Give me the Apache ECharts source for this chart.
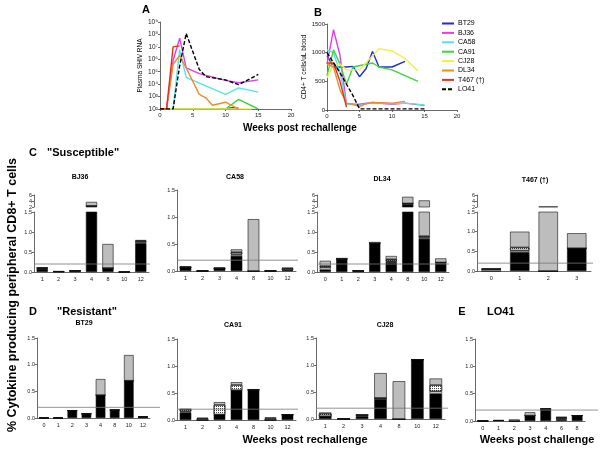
<!DOCTYPE html>
<html>
<head>
<meta charset="utf-8">
<script src="https://cdn.jsdelivr.net/npm/echarts@6/dist/echarts.min.js"></script>
<style>
html, body { margin: 0; padding: 0; background: #fff; }
#chart { width: 600px; height: 457px; }
</style>
</head>
<body>
<div id="chart"></div>
<script>
// ---- panel A: plasma SHIV RNA, [week, copies]
const vlBT29 = [[0, 100], [10, 100], [11, 130], [12, 110]];
const vlBJ36 = [[0, 100], [1, 100], [2, 8e5], [3, 5e7], [4, 2e5], [6, 7e4], [10, 2e4], [12, 1.3e4], [15, 2.2e4]];
const vlCA58 = [[0, 100], [2, 100], [3, 6e6], [4, 3.5e4], [10, 1.5e3], [12, 5e3], [15, 2.3e3]];
const vlCA91 = [[0, 100], [10, 100], [12, 600], [15, 100]];
const vlCJ28 = [[0, 100], [14, 100]];
const vlDL34 = [[0, 100], [1, 100], [2, 4e5], [3, 2e6], [4, 2e5], [6, 1.5e3], [7, 8e2], [8, 2e2], [10, 3.5e2], [12, 100]];
const vlT467 = [[0, 100], [1, 100], [2, 1e7], [3, 1.2e7]];
const vlLO41 = [[0, 100], [2, 100], [3, 3e5], [4, 1.2e8], [6, 1.5e5], [7, 4e4], [10, 2.2e4], [12, 9e3], [15, 6e4]];
const vlTickLabels = ['10²', '10³', '10⁴', '10⁵', '10⁶', '10⁷', '10⁸', '10⁹'];

// ---- panel B: CD4+ T cells/uL, [week, count]
const cdBT29 = [[0, 950], [1, 750], [3, 750], [4, 760], [5, 580], [6, 720], [7, 1020], [8, 750], [10, 750], [12, 850]];
const cdBJ36 = [[0, 800], [1, 1400], [2, 950], [3, 100], [5, 100], [7, 130], [10, 100], [12, 120], [15, 80]];
const cdCA58 = [[0, 1050], [1, 1000], [2, 650], [3, 100], [5, 80], [7, 130], [10, 110], [12, 120], [15, 90]];
const cdCA91 = [[0, 600], [1, 1050], [2, 800], [3, 450], [4, 750], [7, 820], [8, 750], [10, 700], [14, 500]];
const cdCJ28 = [[0, 560], [1, 800], [2, 800], [3, 700], [5, 700], [8, 1070], [10, 1030], [12, 900], [14, 680]];
const cdDL34 = [[0, 800], [1, 750], [2, 350], [3, 120], [4, 100], [5, 60], [6, 110], [7, 130], [10, 120], [12, 150]];
const cdT467 = [[0, 820], [1, 820], [2, 500], [3, 50]];
const cdLO41 = [[0, 1000], [2, 650], [4, 250], [5, 20], [15, 20]];

const animals = ['BT29', 'BJ36', 'CA58', 'CA91', 'CJ28', 'DL34', 'T467 (†)', 'LO41'];

// ---- cytokine bars: black / white / hatched / gray segments
const threshold = 0.2;

const catsBJ36 = ['1', '2', '3', '4', '8', '10', '12'];
const bj36Black = [0.08, 0.01, 0.03, 2.3, 0.1, 0, 0.72];
const bj36White = [0.02, 0, 0, 0.1, 0, 0, 0.03];
const bj36Hatch = [0, 0, 0, 0, 0, 0, 0.03];
const bj36Gray = [0.02, 0.01, 0, 1.3, 0.6, 0.02, 0.02];

const catsCA58 = ['1', '2', '3', '4', '8', '10', '12'];
const ca58Black = [0.07, 0, 0.05, 0.28, 0, 0, 0.01];
const ca58White = [0, 0, 0, 0.03, 0, 0, 0.01];
const ca58Hatch = [0, 0, 0, 0.04, 0, 0, 0.03];
const ca58Gray = [0.01, 0, 0.01, 0.05, 0.96, 0, 0.01];

const catsDL34 = ['0', '1', '2', '3', '4', '8', '10', '12'];
const dl34Black = [0.06, 0.33, 0.03, 0.72, 0.25, 3.0, 0.83, 0.22];
const dl34White = [0.05, 0, 0, 0, 0.02, 0.2, 0.03, 0.02];
const dl34Hatch = [0.04, 0, 0, 0, 0.05, 0, 0.04, 0];
const dl34Gray = [0.13, 0.02, 0, 0.03, 0.08, 2.2, 3.3, 0.1];

const catsT467 = ['0', '1', '2', '3'];
const t467Black = [0, 0.48, 0, 0.58];
const t467White = [0.05, 0.04, 0, 0];
const t467Hatch = [0, 0.08, 0, 0];
const t467Gray = [0, 0.4, 2.2, 0.38];

const catsBT29 = ['0', '1', '2', '3', '4', '8', '10', '12'];
const bt29Black = [0, 0, 0.14, 0.08, 0.43, 0.15, 0.7, 0.02];
const bt29White = [0, 0, 0, 0, 0, 0, 0, 0];
const bt29Hatch = [0, 0, 0, 0, 0, 0, 0, 0];
const bt29Gray = [0, 0.01, 0, 0, 0.3, 0, 0.48, 0];

const catsCA91 = ['1', '2', '3', '4', '8', '10', '12'];
const ca91Black = [0.14, 0, 0.1, 0.55, 0.56, 0, 0.1];
const ca91White = [0.02, 0, 0, 0, 0, 0, 0];
const ca91Hatch = [0.04, 0.03, 0.18, 0.1, 0, 0.03, 0];
const ca91Gray = [0, 0.01, 0.05, 0.05, 0, 0.02, 0];

const catsCJ28 = ['1', '2', '3', '4', '8', '10', '12'];
const cj28Black = [0.05, 0, 0.05, 0.37, 0, 1.1, 0.47];
const cj28White = [0, 0, 0.01, 0.02, 0, 0, 0.04];
const cj28Hatch = [0.05, 0, 0.02, 0, 0, 0, 0.12];
const cj28Gray = [0.02, 0.01, 0, 0.46, 0.7, 0, 0.12];

const catsLO41 = ['0', '1', '2', '3', '4', '6', '8'];
const lo41Black = [0, 0.01, 0, 0.1, 0.22, 0.03, 0.1];
const lo41White = [0, 0, 0, 0, 0, 0.01, 0];
const lo41Hatch = [0, 0, 0, 0, 0, 0.03, 0];
const lo41Gray = [0, 0, 0.03, 0.06, 0, 0, 0];

// ------------------------------------------------------------------
const FONT = 'Liberation Sans';
const colors = ['#1b2fd0', '#e23ee6', '#4fe6ee', '#3fd43f', '#f2ee45', '#f28a2a', '#e5301f', '#000'];

var grid = [], xAxis = [], yAxis = [], series = [], graphic = [];

var axLine = { show: true, onZero: false, lineStyle: { color: '#444', width: 0.8 } };
var axTick = { show: true, length: 2, lineStyle: { color: '#444', width: 0.8 } };
var smallLabel = { fontSize: 5.5, color: '#222', margin: 2, fontFamily: FONT };

function text(str, x, y, size, align, rotate) {
    graphic.push({
        type: 'text', x: x, y: y, rotation: rotate || 0,
        style: {
            text: str, fill: '#000', font: 'bold ' + size + 'px "' + FONT + '"',
            textAlign: align || 'center', textVerticalAlign: 'middle'
        }
    });
}

// panel A
grid.push({ left: 160, top: 22, width: 131, height: 87 });
xAxis.push({
    type: 'value', gridIndex: 0, min: 0, max: 20, interval: 5,
    axisLine: axLine, axisTick: axTick, splitLine: { show: false },
    axisLabel: { fontSize: 6, color: '#222', margin: 3 }
});
yAxis.push({
    type: 'log', logBase: 10, gridIndex: 0, min: 100, max: 1e9,
    axisLine: axLine, axisTick: axTick, splitLine: { show: false },
    axisLabel: {
        fontSize: 6.5, color: '#222', margin: 2,
        formatter: function (v) { return vlTickLabels[Math.round(Math.log10(v)) - 2]; }
    },
    name: 'Plasma SHIV RNA', nameLocation: 'middle', nameGap: 16,
    nameTextStyle: { fontSize: 6.5, color: '#000' }
});
// panel B
grid.push({ left: 327, top: 24, width: 130, height: 86 });
xAxis.push({
    type: 'value', gridIndex: 1, min: 0, max: 20, interval: 5,
    axisLine: axLine, axisTick: axTick, splitLine: { show: false },
    axisLabel: { fontSize: 6, color: '#222', margin: 3 }
});
yAxis.push({
    type: 'value', gridIndex: 1, min: 0, max: 1500, interval: 500,
    axisLine: axLine, axisTick: axTick, splitLine: { show: false },
    axisLabel: { fontSize: 6, color: '#222', margin: 2, formatter: function (v) { return String(v); } },
    name: 'CD4+ T cells/uL blood', nameLocation: 'middle', nameGap: 17,
    nameTextStyle: { fontSize: 6.5, color: '#000' }
});

var vlData = [vlBT29, vlBJ36, vlCA58, vlCA91, vlCJ28, vlDL34, vlT467, vlLO41];
var cdData = [cdBT29, cdBJ36, cdCA58, cdCA91, cdCJ28, cdDL34, cdT467, cdLO41];
animals.forEach(function (name, i) {
    var ls = { width: 1.4, color: colors[i], type: name == 'LO41' ? [4, 2] : 'solid' };
    [vlData[i], cdData[i]].forEach(function (d, g) {
        series.push({
            type: 'line', name: name, xAxisIndex: g, yAxisIndex: g, data: d,
            symbol: 'none', lineStyle: ls, itemStyle: { color: colors[i] },
            z: name == 'LO41' ? 4 : 3
        });
    });
});

// bar panels
var segStyles = [
    { color: '#000' },
    { color: '#fff' },
    { color: '#fff', decal: { symbol: 'rect', symbolSize: 1, color: 'rgba(0,0,0,0.75)', dashArrayX: [1, 1], dashArrayY: [1, 1], rotation: 0 } },
    { color: '#bdbdbd' }
];

function addStack(gi, segs, stack) {
    segs.forEach(function (d, k) {
        series.push({
            type: 'bar', xAxisIndex: gi, yAxisIndex: gi, stack: stack, data: d,
            barCategoryGap: '32%', silent: true,
            itemStyle: Object.assign({ borderColor: '#111', borderWidth: 0.6 }, segStyles[k])
        });
    });
}

function barPanel(p, cats, segs) {
    var gi = grid.length;
    grid.push({ left: p.left, top: p.top, width: p.width, height: p.height });
    xAxis.push({
        type: 'category', gridIndex: gi, data: cats,
        axisLine: axLine, axisTick: { show: false },
        axisLabel: Object.assign({ interval: 0 }, smallLabel, { margin: 4 })
    });
    yAxis.push({
        type: 'value', gridIndex: gi, min: 0, max: 1.5, interval: 0.5,
        axisLine: axLine, axisTick: axTick, splitLine: { show: false },
        axisLabel: Object.assign({ formatter: function (v) { return v.toFixed(1); } }, smallLabel)
    });
    addStack(gi, segs, 's' + gi);

    // threshold line, drawn over the full axis length
    var ti = grid.length;
    grid.push({ left: p.left, top: p.top, width: p.lineRight - p.left, height: p.height });
    xAxis.push({ type: 'value', gridIndex: ti, min: 0, max: 1, show: false });
    yAxis.push({ type: 'value', gridIndex: ti, min: 0, max: 1.5, show: false });
    series.push({
        type: 'line', xAxisIndex: ti, yAxisIndex: ti, data: [[0, threshold], [1, threshold]],
        symbol: 'none', silent: true, z: 5, lineStyle: { color: '#777', width: 0.8 }
    });

    if (p.upperTop != undefined) {
        var ui = grid.length;
        grid.push({ left: p.left, top: p.upperTop, width: p.width, height: p.upperHeight });
        xAxis.push({ type: 'category', gridIndex: ui, data: cats, show: false });
        yAxis.push({
            type: 'value', gridIndex: ui, min: 2, max: 6, interval: 2,
            axisLine: axLine, axisTick: axTick, splitLine: { show: false },
            axisLabel: smallLabel
        });
        addStack(ui, segs, 'u' + gi);
    }
    text(p.title, p.titleX, p.titleY, 7);
}

barPanel({ title: 'BJ36', left: 34, width: 115, top: 212, height: 60, upperTop: 195, upperHeight: 12, lineRight: 150, titleX: 80, titleY: 177 },
    catsBJ36, [bj36Black, bj36White, bj36Hatch, bj36Gray]);
barPanel({ title: 'CA58', left: 177, width: 119, top: 190, height: 81, lineRight: 298, titleX: 235, titleY: 177 },
    catsCA58, [ca58Black, ca58White, ca58Hatch, ca58Gray]);
barPanel({ title: 'DL34', left: 317, width: 132, top: 212, height: 60, upperTop: 195, upperHeight: 12, lineRight: 449, titleX: 382, titleY: 179 },
    catsDL34, [dl34Black, dl34White, dl34Hatch, dl34Gray]);
barPanel({ title: 'T467 (†)', left: 477, width: 114, top: 212, height: 59, upperTop: 195, upperHeight: 12, lineRight: 593, titleX: 535, titleY: 180 },
    catsT467, [t467Black, t467White, t467Hatch, t467Gray]);

barPanel({ title: 'BT29', left: 37, width: 113, top: 338, height: 80, lineRight: 160, titleX: 84, titleY: 323 },
    catsBT29, [bt29Black, bt29White, bt29Hatch, bt29Gray]);
barPanel({ title: 'CA91', left: 177, width: 119, top: 339, height: 81, lineRight: 298, titleX: 233, titleY: 325 },
    catsCA91, [ca91Black, ca91White, ca91Hatch, ca91Gray]);
barPanel({ title: 'CJ28', left: 316, width: 129, top: 338, height: 81, lineRight: 448, titleX: 385, titleY: 325 },
    catsCJ28, [cj28Black, cj28White, cj28Hatch, cj28Gray]);
barPanel({ title: '', left: 475, width: 110, top: 339, height: 82, lineRight: 598, titleX: 530, titleY: 325 },
    catsLO41, [lo41Black, lo41White, lo41Hatch, lo41Gray]);

// labels
text('A', 146, 10, 11, 'center');
text('B', 318, 13, 11, 'center');
text('Weeks post rechallenge', 243, 128, 10, 'left');
text('C', 33, 153, 11);
text('"Susceptible"', 47, 153, 11, 'left');
text('D', 33, 312, 11);
text('"Resistant"', 57, 312, 11, 'left');
text('E', 462, 312, 11);
text('LO41', 487, 312, 11, 'left');
text('% Cytokine producing peripheral CD8+ T cells', 13, 295, 12.5, 'center', Math.PI / 2);
text('Weeks post rechallenge', 305, 440, 11);
text('Weeks post challenge', 537, 440, 11);

var option = {
    animation: false,
    textStyle: { fontFamily: FONT },
    grid: grid, xAxis: xAxis, yAxis: yAxis, series: series, graphic: graphic,
    legend: {
        data: animals, orient: 'vertical', left: 436, top: 15,
        itemWidth: 12, itemHeight: 7, itemGap: 2.4,
        itemStyle: { opacity: 0 },
        textStyle: { fontSize: 7, color: '#000', padding: [0, 0, 0, -1] }
    }
};

var myChart = echarts.init(document.getElementById('chart'), null, { renderer: 'canvas' });
myChart.setOption(option);
</script>
</body>
</html>
